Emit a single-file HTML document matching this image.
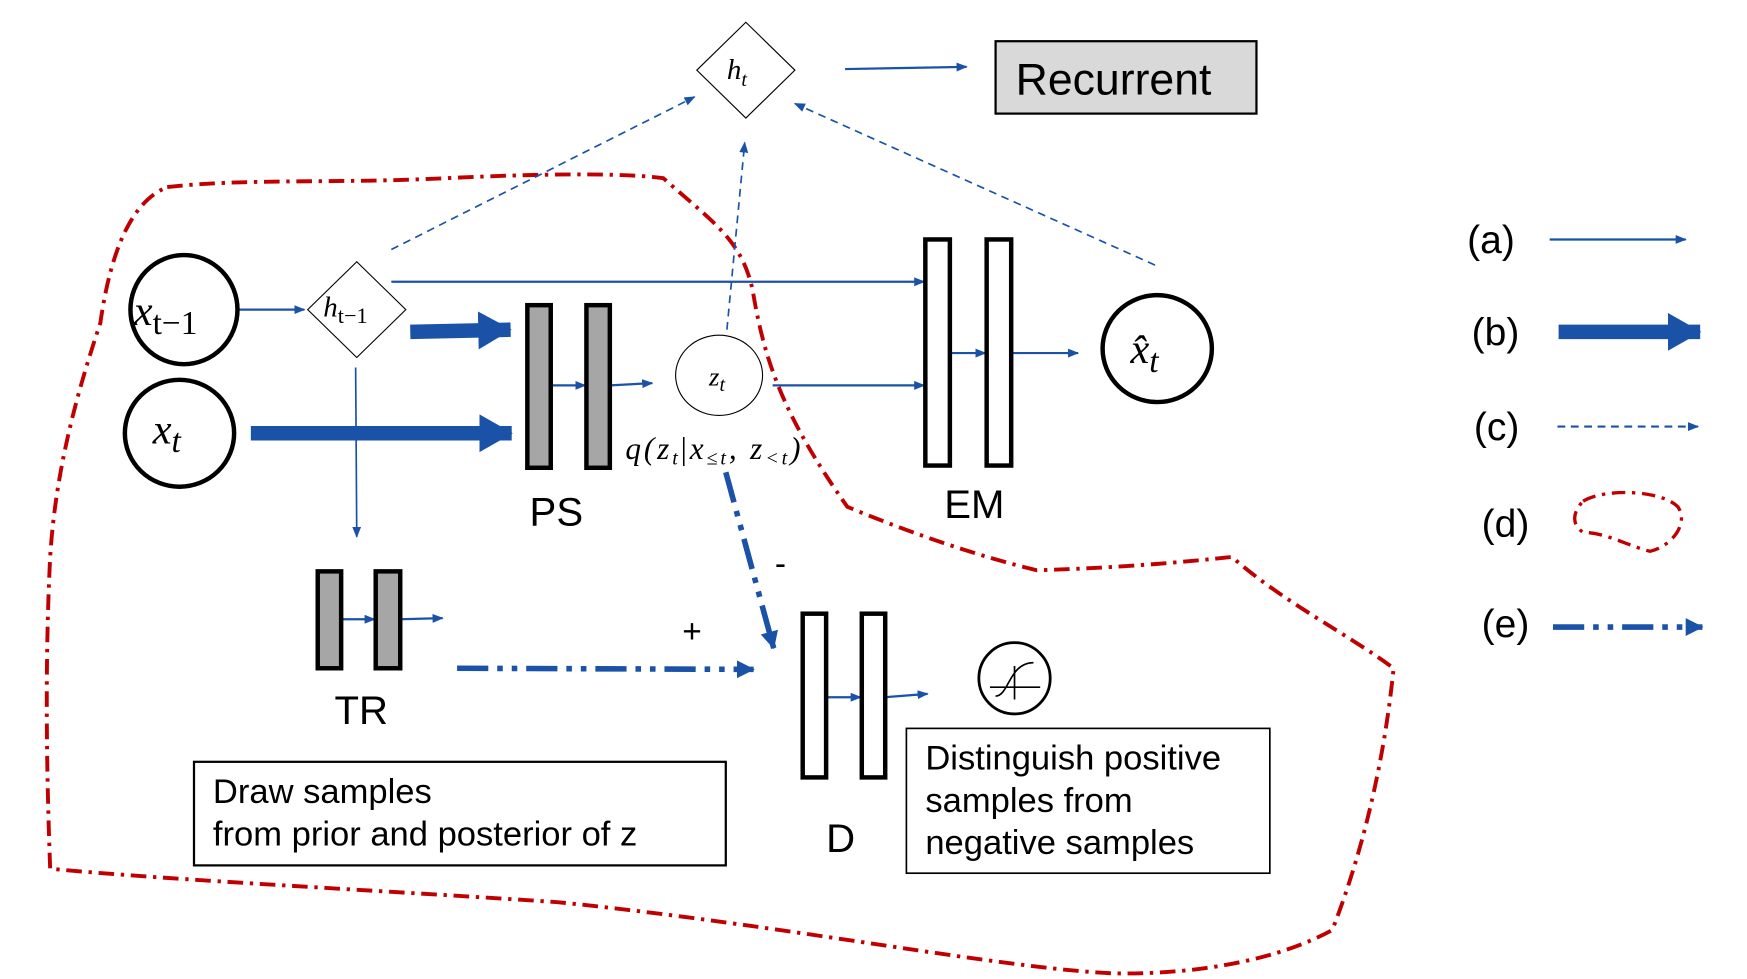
<!DOCTYPE html>
<html><head><meta charset="utf-8"><style>
html,body{margin:0;padding:0;background:#fff;width:1747px;height:979px;overflow:hidden}
svg{display:block}
.s{font-family:"Liberation Sans",sans-serif}
.m{font-family:"Liberation Serif",serif;font-style:italic}
</style></head><body>
<svg width="1747" height="979" viewBox="0 0 1567 879" preserveAspectRatio="none" xmlns="http://www.w3.org/2000/svg">
<defs>
<marker id="a" markerWidth="10" markerHeight="8" refX="9" refY="4" orient="auto" markerUnits="userSpaceOnUse"><path d="M0,0 L10,4 L0,8z" fill="#1a52a8"/></marker>
<marker id="b" markerWidth="30" markerHeight="34" refX="29" refY="17" orient="auto" markerUnits="userSpaceOnUse"><path d="M0,0 L30,17 L0,34z" fill="#1a52a8"/></marker>
<marker id="e" markerWidth="16" markerHeight="16" refX="15" refY="8" orient="auto" markerUnits="userSpaceOnUse"><path d="M0,0 L16,8 L0,16z" fill="#1a52a8"/></marker>
</defs>
<g stroke="#1a52a8" fill="none">
<path d="M150,168 C220,160 300,165 400,160 C480,156 560,155 595,160 C640,200 665,215 675,260 C685,320 700,370 760,455 C820,480 880,500 930,512 C1000,510 1060,505 1105,500 C1150,540 1210,570 1250,600 C1245,650 1232,740 1195,835 C1150,860 1080,875 1000,874 C900,870 700,830 500,810 C350,800 150,790 45,780 C42,700 40,600 45,500 C50,420 70,350 90,290 C100,220 120,180 150,168Z" stroke="#c00000" stroke-width="3.5" stroke-dasharray="14,6,3,6"/>
<line x1="351" y1="224" x2="623" y2="87" stroke-width="1.5" stroke-dasharray="7,5" marker-end="url(#a)"/>
<line x1="652" y1="296" x2="668" y2="128" stroke-width="1.5" stroke-dasharray="7,5" marker-end="url(#a)"/>
<line x1="1036" y1="238" x2="713" y2="93" stroke-width="1.5" stroke-dasharray="7,5" marker-end="url(#a)"/>
<line x1="758" y1="62" x2="867" y2="60" stroke-width="2" marker-end="url(#a)"/>
<line x1="214" y1="278" x2="273" y2="278" stroke-width="2" marker-end="url(#a)"/>
<line x1="351" y1="253" x2="829" y2="253" stroke-width="2" marker-end="url(#a)"/>
<line x1="319" y1="330" x2="320" y2="482" stroke-width="1.5" marker-end="url(#a)"/>
<line x1="494" y1="346" x2="525" y2="346" stroke-width="2" marker-end="url(#a)"/>
<line x1="547" y1="346" x2="585" y2="344" stroke-width="2" marker-end="url(#a)"/>
<line x1="693" y1="346" x2="829" y2="346" stroke-width="2" marker-end="url(#a)"/>
<line x1="852" y1="317" x2="884" y2="317" stroke-width="2" marker-end="url(#a)"/>
<line x1="907" y1="317" x2="967" y2="317" stroke-width="2" marker-end="url(#a)"/>
<line x1="306" y1="556" x2="336" y2="556" stroke-width="2" marker-end="url(#a)"/>
<line x1="359" y1="556" x2="397" y2="555" stroke-width="2" marker-end="url(#a)"/>
<line x1="741" y1="626" x2="772" y2="626" stroke-width="2" marker-end="url(#a)"/>
<line x1="794" y1="626" x2="832" y2="623" stroke-width="2" marker-end="url(#a)"/>
<line x1="368" y1="298" x2="458" y2="296" stroke-width="13" marker-end="url(#b)"/>
<line x1="225" y1="389" x2="459" y2="389" stroke-width="13" marker-end="url(#b)"/>
<line x1="410" y1="600" x2="676" y2="601" stroke-width="5" stroke-dasharray="28,8,5,8,5,8" marker-end="url(#e)"/>
<line x1="651" y1="424" x2="694" y2="582" stroke-width="5" stroke-dasharray="28,8,5,8,5,8" marker-end="url(#e)"/>
<line x1="1390" y1="215" x2="1512" y2="215" stroke-width="2" marker-end="url(#a)"/>
<line x1="1398" y1="298" x2="1525" y2="298" stroke-width="13" marker-end="url(#b)"/>
<line x1="1397" y1="383" x2="1523" y2="383" stroke-width="2" stroke-dasharray="7,5" marker-end="url(#a)"/>
<path d="M1420,450 C1440,438 1490,440 1505,455 C1515,470 1500,490 1480,495 C1460,490 1440,478 1420,478 C1408,470 1412,458 1420,450Z" stroke="#c00000" stroke-width="3" stroke-dasharray="12,6,3,6"/>
<line x1="1393" y1="563" x2="1527" y2="563" stroke-width="5" stroke-dasharray="28,8,5,8,5,8" marker-end="url(#e)"/>
</g>
<g stroke="#000" fill="#fff">
<polygon points="669,20 713,63 669,106 625,63" stroke-width="1"/>
<rect x="893" y="37" width="234" height="65" fill="#d9d9d9" stroke-width="2"/>
<ellipse cx="165" cy="278" rx="48" ry="49" stroke-width="4"/>
<polygon points="320,235 364,278 320,321 276,278" stroke-width="1"/>
<ellipse cx="161" cy="389" rx="49" ry="48" stroke-width="4"/>
<rect x="473" y="274" width="21" height="146" fill="#a6a6a6" stroke-width="4"/>
<rect x="526" y="274" width="21" height="146" fill="#a6a6a6" stroke-width="4"/>
<ellipse cx="645" cy="337" rx="39" ry="36" stroke-width="1"/>
<rect x="830" y="215" width="22" height="203" stroke-width="4"/>
<rect x="885" y="215" width="22" height="203" stroke-width="4"/>
<ellipse cx="1038" cy="313" rx="49" ry="48" stroke-width="4"/>
<rect x="285" y="513" width="21" height="87" fill="#a6a6a6" stroke-width="4"/>
<rect x="337" y="513" width="22" height="87" fill="#a6a6a6" stroke-width="4"/>
<rect x="720" y="551" width="21" height="147" stroke-width="4"/>
<rect x="773" y="551" width="21" height="147" stroke-width="4"/>
<circle cx="910" cy="609" r="32" stroke-width="2.5"/>
<rect x="813" y="654" width="326" height="130" stroke-width="1.5"/>
<rect x="174" y="684" width="477" height="93" stroke-width="2"/>
</g>
<path d="M888,617 L933,617 M910,598 L910,628 M893,625 C905,625 905,595 927,595" stroke="#000" stroke-width="1.5" fill="none"/>
<g fill="#000">
<text class="s" x="911" y="85" font-size="40">Recurrent</text>
<text class="m" x="652" y="71" font-size="26">h<tspan font-size="18" dy="6">t</tspan></text>
<text class="m" x="120" y="292" font-size="38">x<tspan font-size="30" dy="8" font-style="normal">t−1</tspan></text>
<text class="m" x="290" y="284" font-size="26">h<tspan font-size="20" dy="6" font-style="normal">t−1</tspan></text>
<text class="m" x="137" y="398" font-size="38">x<tspan font-size="30" dy="8">t</tspan></text>
<text class="m" x="636" y="346" font-size="24">z<tspan font-size="18" dy="5">t</tspan></text>
<text class="m" x="561" y="412" font-size="28" textLength="157" lengthAdjust="spacing">q(z<tspan font-size="18" dy="5">t</tspan><tspan dy="-5" font-style="normal">|</tspan>x<tspan font-size="18" dy="5">≤t</tspan><tspan dy="-5">, z</tspan><tspan font-size="18" dy="5">&lt;t</tspan><tspan dy="-5">)</tspan></text>
<text class="m" x="1014" y="326" font-size="38">x̂<tspan font-size="30" dy="8">t</tspan></text>
<text class="s" x="475" y="472" font-size="36">PS</text>
<text class="s" x="847" y="465" font-size="36">EM</text>
<text class="s" x="300" y="650" font-size="36">TR</text>
<text class="s" x="741" y="765" font-size="36">D</text>
<text class="s" x="612" y="577" font-size="30">+</text>
<text class="s" x="695" y="516" font-size="30">-</text>
<text class="s" x="830" y="691" font-size="31">Distinguish positive</text>
<text class="s" x="830" y="729" font-size="31">samples from</text>
<text class="s" x="830" y="767" font-size="31">negative samples</text>
<text class="s" x="191" y="721" font-size="31">Draw samples</text>
<text class="s" x="191" y="759" font-size="31">from prior and posterior of z</text>
<text class="s" x="1316" y="227" font-size="35">(a)</text>
<text class="s" x="1320" y="310" font-size="35">(b)</text>
<text class="s" x="1322" y="395" font-size="35">(c)</text>
<text class="s" x="1329" y="482" font-size="35">(d)</text>
<text class="s" x="1329" y="572" font-size="35">(e)</text>
</g>
</svg>
</body></html>
